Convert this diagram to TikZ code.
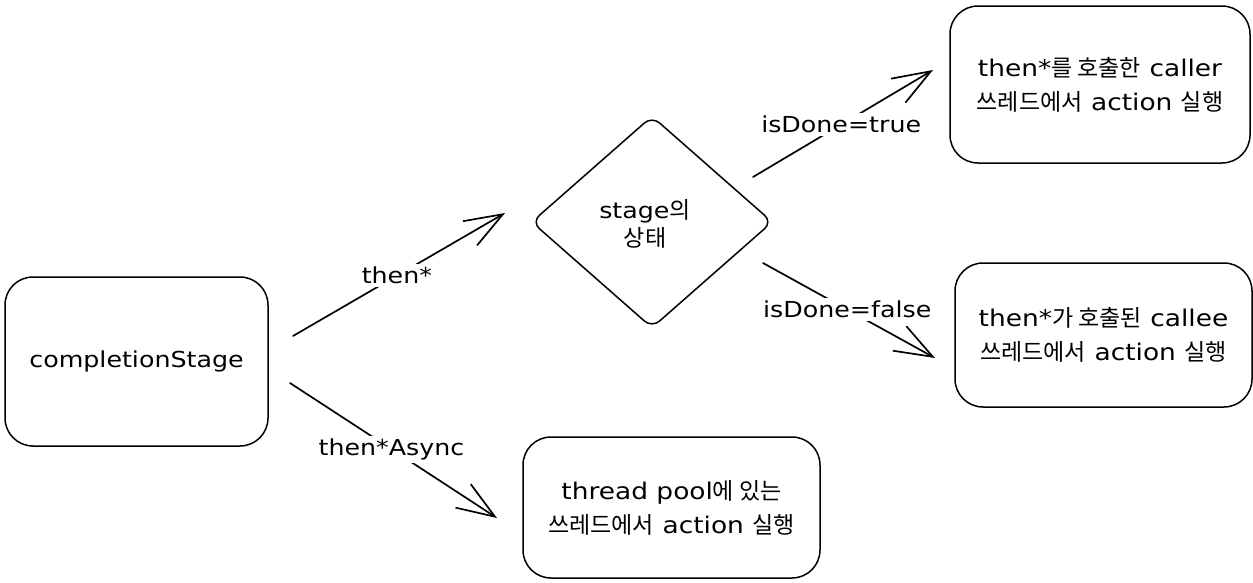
\documentclass[tikz,border=0pt]{standalone}
\usepackage{fontspec}
\setmainfont{DejaVu Sans}[FakeStretch=1.15]
\newfontfamily\krfont{Noto Sans CJK KR}
\newcommand\hk[1]{{\krfont\fontsize{23pt}{34pt}\selectfont #1}}
\usetikzlibrary{shapes.geometric,arrows.meta}
\begin{document}
\begin{tikzpicture}[x=1pt,y=-1pt,
  every node/.style={font=\fontsize{22pt}{34pt}\selectfont, text=black},
  box/.style={draw=black, line width=1.5pt, rounded corners=28pt, inner sep=0pt, align=center},
  boxtext/.style={font=\fontsize{23pt}{34pt}\selectfont},
  dia/.style={draw=black, line width=1.5pt, diamond, rounded corners=10pt, inner sep=0pt, align=center},
  arr/.style={draw=black, line width=1.7pt, line cap=round,
    -{Straight Barb[length=38pt, width=28pt, line width=1.7pt]}},
  lbl/.style={fill=white, inner sep=3pt, pos=0.49}]
\useasboundingbox (0,0) rectangle (1253,582);
\fill[white] (0,0) rectangle (1253,582);

\node[box, minimum width=263pt, minimum height=169pt] (cs) at (136.5,361.5) {completionStage};
\node[dia, minimum width=241pt, minimum height=212pt] (st) at (652,222) {};
\node[align=center] (sttext) at (645,224) {stage\hk{의}\\[-6pt]\hk{상태}};
\node[box, boxtext, minimum width=300pt, minimum height=157pt] (caller) at (1100,84.5)
  {then*\hk{를 호출한} caller\\\hk{쓰레드에서} action \hk{실행}};
\node[box, boxtext, minimum width=297pt, minimum height=144pt] (callee) at (1103.5,335)
  {then*\hk{가 호출된} callee\\\hk{쓰레드에서} action \hk{실행}};
\node[box, boxtext, minimum width=297pt, minimum height=141pt] (pool) at (671.5,507.5)
  {thread pool\hk{에 있는}\\\hk{쓰레드에서} action \hk{실행}};

\coordinate (a1s) at (293,336);
\coordinate (a1e) at (505,213);
\coordinate (a2s) at (290,383);
\coordinate (a2e) at (497,518);
\coordinate (a3s) at (753,177);
\coordinate (a3e) at (933,70);
\coordinate (a4s) at (763,263);
\coordinate (a4e) at (935,358);

\draw[arr] (a1s) -- node[lbl] (l1) {then*} (a1e);
\draw[arr] (a2s) -- node[lbl] (l2) {then*Async} (a2e);
\draw[arr] (a3s) -- node[lbl] (l3) {isDone=true} (a3e);
\draw[arr] (a4s) -- node[lbl] (l4) {isDone=false} (a4e);
\end{tikzpicture}
\end{document}
